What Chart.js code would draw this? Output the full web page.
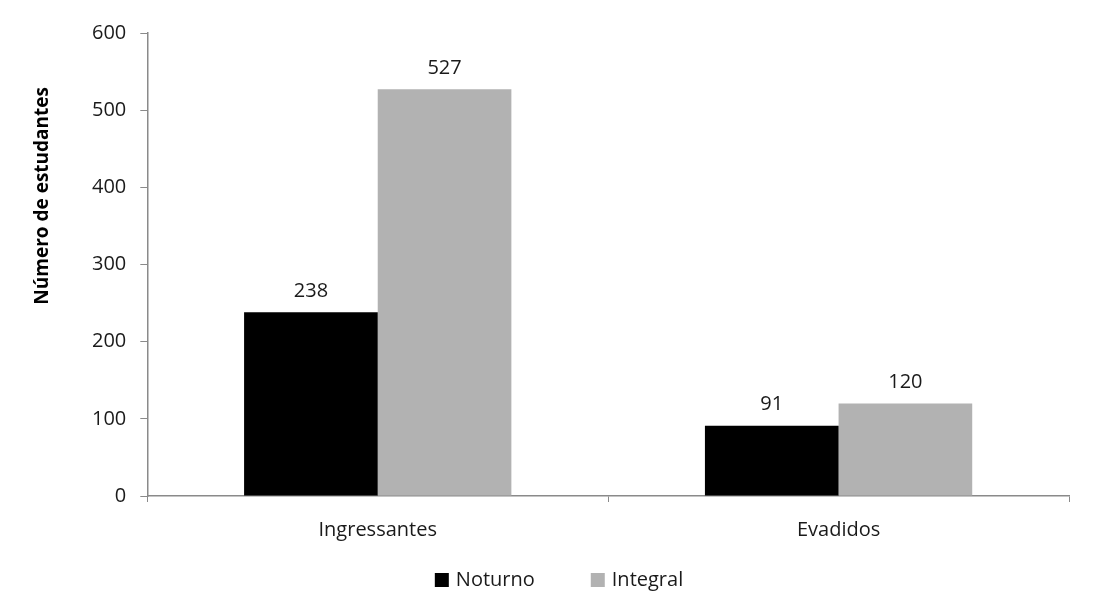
<!DOCTYPE html>
<html>
<head>
<meta charset="utf-8">
<script src="https://cdn.jsdelivr.net/npm/chart.js@4/dist/chart.umd.min.js"></script>
<style>
  html, body { margin: 0; padding: 0; background: #ffffff; }
  #wrap { width: 1096px; height: 592px; }
</style>
</head>
<body>
<div id="wrap"><canvas id="c" width="1096" height="592"></canvas></div>
<script>
const categories = ['Ingressantes', 'Evadidos'];
const noturno = [238, 91];
const integral = [527, 120];
const seriesNames = ['Noturno', 'Integral'];
const seriesColors = ['#000000', '#b2b2b2'];
const yTicks = [0, 100, 200, 300, 400, 500, 600];
const yTitle = 'Número de estudantes';

const FONT = '"Open Sans", "Liberation Sans", sans-serif';
const AXIS = '#8a8a8a';
const TEXT = '#1a1a1a';

// value labels above each bar
const valueLabels = {
  id: 'valueLabels',
  afterDatasetsDraw(chart) {
    const ctx = chart.ctx;
    ctx.save();
    ctx.font = '20px ' + FONT;
    ctx.fillStyle = TEXT;
    ctx.textAlign = 'center';
    ctx.textBaseline = 'middle';
    chart.data.datasets.forEach((ds, i) => {
      chart.getDatasetMeta(i).data.forEach((bar, j) => {
        ctx.fillText(String(ds.data[j]), bar.x, bar.y - 21);
      });
    });
    ctx.restore();
  }
};

// rotated y-axis title
const yAxisTitle = {
  id: 'yAxisTitle',
  afterDraw(chart) {
    const ctx = chart.ctx;
    const y = chart.scales.y;
    ctx.save();
    ctx.translate(43, y.getPixelForValue(389));
    ctx.rotate(-Math.PI / 2);
    ctx.font = 'bold 19px ' + FONT;
    ctx.fillStyle = '#000000';
    ctx.textAlign = 'center';
    ctx.textBaseline = 'middle';
    ctx.fillText(yTitle, 0, 0);
    ctx.restore();
  }
};

// legend row under the axis: square swatch + series name, wide gap between items
const bottomLegend = {
  id: 'bottomLegend',
  afterDraw(chart) {
    const ctx = chart.ctx;
    const box = 14, textGap = 7, itemGap = 56, centerX = 559, midY = 580;
    ctx.save();
    ctx.font = '20px ' + FONT;
    ctx.textBaseline = 'middle';
    ctx.textAlign = 'left';
    const items = chart.data.datasets.map(ds => ({
      text: ds.label, color: ds.backgroundColor, w: box + textGap + ctx.measureText(ds.label).width
    }));
    const total = items.reduce((s, it) => s + it.w, 0) + itemGap * (items.length - 1);
    let x = centerX - total / 2;
    items.forEach(it => {
      ctx.fillStyle = it.color;
      ctx.fillRect(x, midY - box / 2, box, box);
      ctx.fillStyle = TEXT;
      ctx.fillText(it.text, x + box + textGap, midY);
      x += it.w + itemGap;
    });
    ctx.restore();
  }
};

new Chart(document.getElementById('c'), {
  type: 'bar',
  data: {
    labels: categories,
    datasets: [
      { label: seriesNames[0], data: noturno, backgroundColor: seriesColors[0], borderWidth: 0,
        categoryPercentage: 0.58, barPercentage: 1.0 },
      { label: seriesNames[1], data: integral, backgroundColor: seriesColors[1], borderWidth: 0,
        categoryPercentage: 0.58, barPercentage: 1.0 }
    ]
  },
  options: {
    responsive: false,
    animation: false,
    layout: { padding: { left: 78, right: 27, top: 33, bottom: 34 } },
    plugins: {
      legend: { display: false },
      tooltip: { enabled: false }
    },
    scales: {
      x: {
        grid: { display: true, drawOnChartArea: false, drawTicks: true, tickLength: 6, color: AXIS, offset: true },
        border: { display: true, color: AXIS, width: 1.5 },
        ticks: { font: { family: FONT, size: 20 }, color: TEXT, padding: 16 }
      },
      y: {
        min: 0,
        max: 600,
        afterBuildTicks(scale) { scale.ticks = yTicks.map(v => ({ value: v })); },
        grid: { display: true, drawOnChartArea: false, drawTicks: true, tickLength: 7, color: AXIS },
        border: { display: true, color: AXIS, width: 1.5 },
        ticks: { font: { family: FONT, size: 20 }, color: TEXT, padding: 14 }
      }
    }
  },
  plugins: [valueLabels, yAxisTitle, bottomLegend]
});
</script>
</body>
</html>
